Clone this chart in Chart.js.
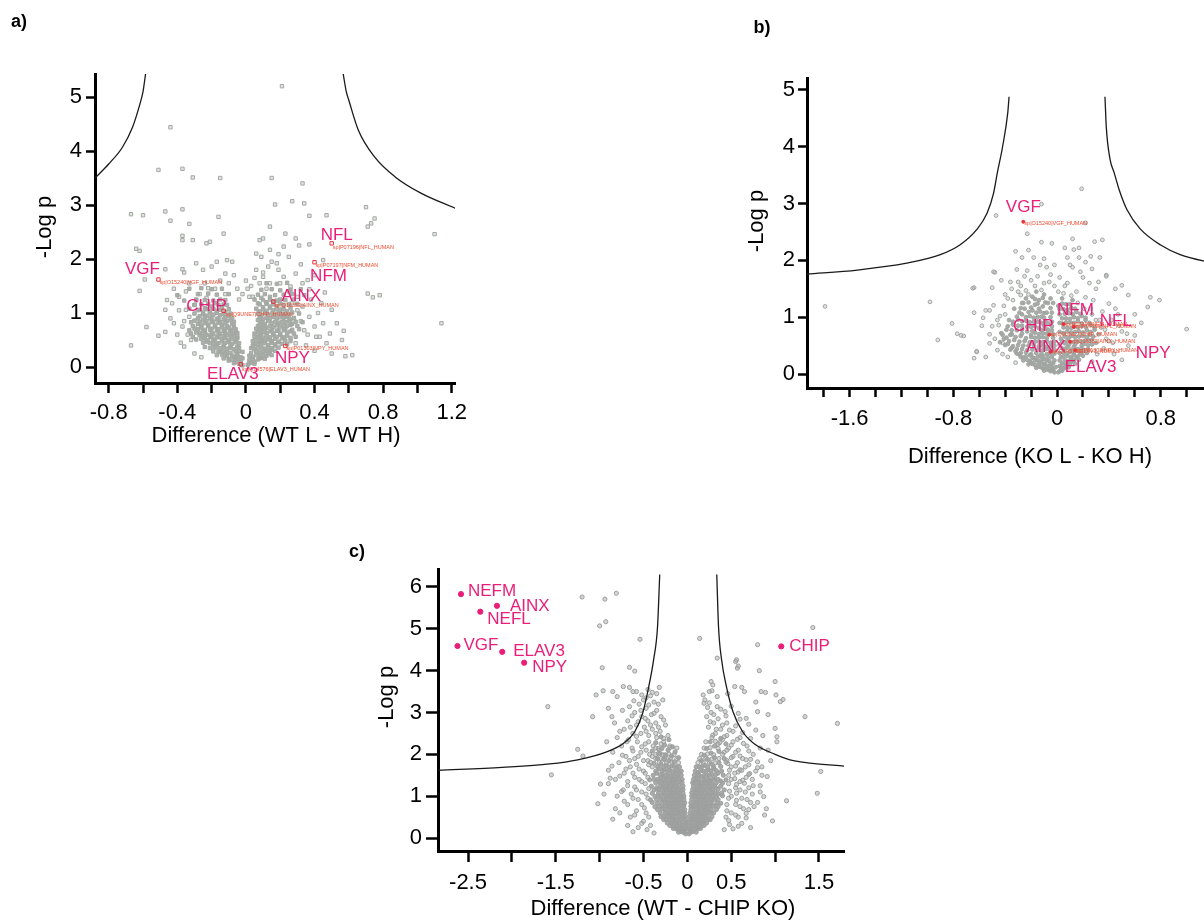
<!DOCTYPE html>
<html>
<head>
<meta charset="utf-8">
<script src="https://cdn.jsdelivr.net/npm/chart.js@4.4.1/dist/chart.umd.min.js"></script>
<style>
  html, body { margin: 0; padding: 0; background: #fff; overflow: hidden; width: 1204px; height: 924px; }
  canvas { position: absolute; }
  #ca { left: 0; top: 0; }
  #cb { left: 740px; top: 0; }
  #cc { left: 340px; top: 520px; }
</style>
</head>
<body>
<canvas id="ca" width="480" height="450"></canvas>
<canvas id="cb" width="540" height="470"></canvas>
<canvas id="cc" width="530" height="404"></canvas>
<script>
// Three volcano plots (a, b, c)

// ---------- panel a: WT L - WT H ----------
const xTicksA = ['-0.8', '-0.4', '0', '0.4', '0.8', '1.2'];
const yTicksA = ['0', '1', '2', '3', '4', '5'];
const genesA = ['NFL', 'NFM', 'VGF', 'CHIP', 'AINX', 'NPY', 'ELAV3'];
const accA = ['sp|P07196|NFL_HUMAN', 'sp|P07197|NFM_HUMAN', 'sp|O15240|VGF_HUMAN', 'sp|Q9UNE7|CHIP_HUMAN',
              'sp|Q16352|AINX_HUMAN', 'sp|P01303|NPY_HUMAN', 'sp|Q14576|ELAV3_HUMAN'];
const genesAx = [0.50, 0.40, -0.51, -0.13, 0.16, 0.23, -0.03];
const genesAy = [2.29, 1.94, 1.62, 1.04, 1.21, 0.39, 0.05];
const curveALeft = [[-0.88,3.50],[-0.80,3.76],[-0.72,4.07],[-0.66,4.45],[-0.62,4.85],[-0.60,5.10],[-0.585,5.43]];
const curveARight = [[0.567,5.43],[0.585,5.10],[0.60,4.94],[0.655,4.39],[0.75,3.89],[0.87,3.52],[1.02,3.22],[1.22,2.94]];
const scatterA = [[0.21,5.20],[-0.44,4.44],[-0.51,3.65],[-0.37,3.67],[-0.31,3.51],[-0.15,3.50],[0.15,3.50],[0.33,3.40],
  [0.17,3.01],[0.27,3.07],[0.34,3.03],[-0.67,2.83],[-0.60,2.81],[-0.47,2.88],[-0.37,2.92],[-0.44,2.71],[-0.33,2.65],
  [-0.16,2.78],[0.37,2.80],[0.47,2.81],[0.70,2.96],[0.75,2.75],[0.73,2.66],[0.71,2.60],[1.10,2.46],[-0.37,2.43],
  [-0.37,2.35],[-0.31,2.35],[-0.23,2.29],[-0.21,2.32],[-0.13,2.47],[-0.64,2.19],[-0.62,2.15],[-0.29,1.92],[-0.47,1.81],
  [-0.37,1.81],[-0.36,1.75],[-0.59,1.62],[-0.62,1.41],[-0.58,0.74],[-0.51,0.58],[-0.67,0.40],[-0.47,0.65],[0.71,1.36],
  [0.74,1.29],[0.78,1.33],[1.14,0.81],[0.62,0.22],[0.58,0.20],[0.56,0.50],[0.57,0.67],[0.53,0.81],[0.50,1.06],
  [0.44,1.18],[0.46,1.38],[0.37,1.44],[0.36,1.61],[0.29,1.73],[0.37,2.27],[0.31,2.25],[0.45,1.98],[0.25,2.04],
  [0.19,2.09],[0.14,2.17],[0.10,2.38],[0.08,2.35],[0.14,2.60],[0.09,2.04],[0.23,2.47],[0.29,2.38],[0.22,2.23],
  [-0.43,1.18],[-0.47,1.06],[-0.42,0.81],[-0.37,0.75],[-0.33,0.93],[-0.29,1.24],[-0.24,1.55],[-0.20,1.86],[-0.17,1.95],
  [-0.12,1.73],[-0.11,1.98],[-0.08,1.95],[-0.25,1.80],[-0.22,1.46],[-0.33,1.55],[-0.39,1.30],[-0.46,1.24],[-0.35,1.06],
  [-0.28,0.75],[-0.32,0.50],[-0.36,0.38],[-0.30,0.25],[-0.26,0.18],[0.06,1.80],[0.10,1.67],[0.14,1.55],[0.19,1.80],
  [0.22,1.67],[0.26,1.49],[0.30,1.30],[0.33,1.12],[0.37,0.93],[0.40,0.75],[0.43,0.56],[0.47,0.44],[0.50,0.25],
  [0.34,0.68],[0.29,0.44],[0.18,1.92],[0.13,1.86],[0.08,1.55],[0.04,1.30],[0.27,1.18],[0.23,0.93],[0.45,0.81],
  [0.49,0.62],[0.41,0.56],
  [-0.05,1.45],[0.00,1.60],[0.03,1.50],[-0.02,1.35],[0.10,1.75],[-0.15,1.60],[-0.35,1.40],[0.38,1.25],[0.33,1.55],
  [-0.44,0.90],[-0.40,0.60],[-0.38,0.45],[0.35,0.40],[0.40,0.30],[0.42,1.00],[0.06,2.10],[-0.07,1.70],[0.15,1.95],
  [-0.27,1.35],[-0.42,1.45],[0.32,1.90],[0.40,1.70],[-0.18,1.45],[-0.10,1.55],[0.05,1.65],[0.20,1.55],[0.25,1.40],
  [-0.30,1.15],[0.32,0.85],[0.36,0.60],[-0.34,0.60],[-0.36,0.85],[0.01,1.45],[-0.04,1.25],[0.02,1.30],[-0.23,1.28],
  [0.30,1.05],[-0.39,1.05],[0.12,1.45],[-0.12,1.35]];
const coreA = [[-0.02,0.03],[-0.04,0.06],[-0.06,0.09],[-0.03,0.11],[-0.08,0.13],[-0.05,0.15],[-0.10,0.12],
  [-0.03,0.18],[-0.07,0.19],[-0.11,0.20],[-0.14,0.23],[-0.05,0.24],[-0.09,0.26],[-0.13,0.29],[-0.04,0.30],[-0.16,0.28],
  [-0.07,0.33],[-0.11,0.34],[-0.15,0.35],[-0.19,0.37],[-0.05,0.38],[-0.09,0.40],[-0.13,0.41],[-0.17,0.43],[-0.21,0.44],
  [-0.06,0.46],[-0.10,0.47],[-0.14,0.48],[-0.19,0.49],[-0.23,0.47],[-0.05,0.53],[-0.08,0.52],[-0.12,0.54],[-0.16,0.55],
  [-0.20,0.56],[-0.24,0.54],[-0.07,0.59],[-0.11,0.60],[-0.15,0.61],[-0.19,0.62],[-0.23,0.60],[-0.27,0.59],[-0.06,0.65],
  [-0.09,0.66],[-0.13,0.67],[-0.17,0.68],[-0.21,0.69],[-0.25,0.66],[-0.29,0.64],[-0.07,0.72],[-0.10,0.73],[-0.14,0.74],
  [-0.18,0.75],[-0.22,0.76],[-0.26,0.73],[-0.30,0.71],[-0.08,0.80],[-0.12,0.81],[-0.16,0.82],[-0.20,0.83],[-0.24,0.81],
  [-0.28,0.80],[-0.09,0.87],[-0.13,0.88],[-0.17,0.89],[-0.21,0.90],[-0.25,0.87],[-0.30,0.86],[-0.10,0.95],[-0.15,0.96],
  [-0.19,0.97],[-0.23,0.95],[-0.27,0.94],[-0.12,1.02],[-0.17,1.04],[-0.21,1.03],[-0.25,1.01],[-0.14,1.10],[-0.20,1.12],
  [-0.24,1.09],[-0.18,1.18],[-0.11,1.15],[-0.28,1.05],
  [0.01,0.04],[0.03,0.08],[0.05,0.10],[0.02,0.13],[0.07,0.14],[0.09,0.17],[0.04,0.19],[0.06,0.22],[0.10,0.23],
  [0.13,0.25],[0.03,0.26],[0.08,0.28],[0.12,0.30],[0.15,0.32],[0.05,0.33],[0.09,0.36],[0.13,0.37],[0.17,0.39],
  [0.04,0.40],[0.07,0.42],[0.11,0.44],[0.15,0.45],[0.19,0.46],[0.06,0.49],[0.09,0.50],[0.13,0.51],[0.17,0.52],
  [0.21,0.53],[0.05,0.56],[0.08,0.57],[0.12,0.58],[0.16,0.59],[0.20,0.60],[0.24,0.58],[0.07,0.64],[0.10,0.65],
  [0.14,0.66],[0.18,0.67],[0.22,0.68],[0.26,0.66],[0.06,0.71],[0.09,0.72],[0.12,0.73],[0.16,0.74],[0.20,0.75],
  [0.24,0.76],[0.08,0.79],[0.11,0.80],[0.15,0.81],[0.19,0.82],[0.23,0.83],[0.27,0.80],[0.07,0.87],[0.10,0.88],
  [0.14,0.89],[0.18,0.90],[0.22,0.91],[0.26,0.88],[0.09,0.95],[0.13,0.96],[0.17,0.97],[0.21,0.98],[0.25,0.96],
  [0.08,1.03],[0.12,1.04],[0.16,1.05],[0.20,1.06],[0.24,1.03],[0.10,1.11],[0.14,1.12],[0.18,1.13],[0.22,1.15],
  [0.07,1.18],[0.12,1.20],[0.16,1.22],[0.20,1.25],[0.09,1.28],[0.14,1.30],[0.05,1.25],
  [-0.03,0.08],[-0.07,0.07],[-0.02,0.16],[-0.06,0.17],[-0.10,0.15],[-0.13,0.16],[-0.05,0.22],[-0.08,0.21],[-0.12,0.23],
  [-0.17,0.22],[-0.02,0.28],[-0.06,0.29],[-0.11,0.27],[-0.15,0.28],[-0.19,0.29],[-0.04,0.36],[-0.09,0.35],[-0.13,0.37],
  [-0.17,0.36],[-0.21,0.35],[-0.24,0.37],[-0.04,0.44],[-0.08,0.43],[-0.12,0.45],[-0.16,0.44],[-0.19,0.43],[-0.25,0.45],
  [-0.06,0.51],[-0.10,0.50],[-0.14,0.52],[-0.18,0.51],[-0.22,0.50],[-0.26,0.52],[-0.29,0.51],[-0.05,0.57],[-0.09,0.58],
  [-0.13,0.57],[-0.17,0.56],[-0.21,0.58],[-0.25,0.57],[-0.31,0.56],[-0.05,0.63],[-0.08,0.62],[-0.12,0.64],[-0.16,0.63],
  [-0.20,0.62],[-0.24,0.64],[-0.27,0.63],[-0.32,0.62],[-0.06,0.70],[-0.09,0.69],[-0.12,0.71],[-0.16,0.70],[-0.20,0.71],
  [-0.24,0.69],[-0.28,0.70],[-0.33,0.68],[-0.07,0.77],[-0.11,0.76],[-0.14,0.78],[-0.18,0.77],[-0.22,0.78],[-0.26,0.77],
  [-0.31,0.76],[-0.07,0.84],[-0.11,0.85],[-0.15,0.83],[-0.19,0.84],[-0.23,0.85],[-0.27,0.84],[-0.32,0.83],[-0.08,0.91],
  [-0.12,0.92],[-0.16,0.90],[-0.20,0.91],[-0.24,0.92],[-0.28,0.90],[-0.09,0.99],[-0.13,0.98],[-0.17,1.00],[-0.21,0.99],
  [-0.25,0.98],[-0.30,0.99],[-0.10,1.07],[-0.15,1.06],[-0.19,1.08],[-0.23,1.07],[-0.27,1.06],[-0.33,1.08],[-0.13,1.16],
  [-0.16,1.15],[-0.22,1.17],[-0.26,1.16],[-0.30,1.15],[-0.12,1.24],[-0.15,1.25],[-0.19,1.23],[-0.24,1.24],[-0.29,1.25],
  [-0.36,1.23],[-0.10,1.35],[-0.17,1.34],[-0.22,1.36],[-0.28,1.35],[-0.40,1.33],[-0.14,1.45],[-0.20,1.44],[-0.26,1.46],
  [-0.33,1.45],
  [0.02,0.07],[0.05,0.06],[0.04,0.15],[0.08,0.16],[0.11,0.15],[0.02,0.21],[0.08,0.20],[0.12,0.21],[0.15,0.22],
  [0.06,0.29],[0.10,0.28],[0.14,0.29],[0.17,0.30],[0.03,0.35],[0.07,0.36],[0.11,0.34],[0.15,0.35],[0.19,0.36],
  [0.05,0.42],[0.09,0.43],[0.13,0.41],[0.17,0.42],[0.21,0.43],[0.24,0.42],[0.04,0.48],[0.08,0.47],[0.11,0.49],
  [0.15,0.48],[0.19,0.47],[0.23,0.49],[0.26,0.48],[0.07,0.55],[0.10,0.54],[0.14,0.55],[0.18,0.56],[0.22,0.55],
  [0.26,0.54],[0.29,0.56],[0.05,0.62],[0.09,0.61],[0.12,0.63],[0.16,0.62],[0.20,0.61],[0.24,0.63],[0.28,0.62],
  [0.08,0.69],[0.11,0.70],[0.15,0.69],[0.19,0.68],[0.23,0.70],[0.27,0.69],[0.31,0.70],[0.07,0.76],[0.10,0.77],
  [0.14,0.76],[0.18,0.77],[0.22,0.76],[0.26,0.78],[0.30,0.76],[0.09,0.84],[0.13,0.85],[0.17,0.84],[0.21,0.83],
  [0.25,0.85],[0.29,0.84],[0.33,0.83],[0.08,0.92],[0.12,0.91],[0.16,0.93],[0.20,0.92],[0.24,0.93],[0.28,0.91],
  [0.07,0.99],[0.11,1.00],[0.15,0.99],[0.19,1.00],[0.23,0.99],[0.27,1.01],[0.31,0.99],[0.06,1.08],[0.10,1.07],
  [0.14,1.09],[0.18,1.08],[0.22,1.07],[0.26,1.09],[0.08,1.16],[0.12,1.17],[0.16,1.16],[0.20,1.18],[0.25,1.16],
  [0.30,1.17],[0.10,1.24],[0.14,1.25],[0.18,1.23],[0.23,1.24],[0.28,1.25],[0.07,1.34],[0.11,1.35],[0.17,1.33],
  [0.22,1.34],[0.27,1.35],[0.34,1.33],[0.09,1.43],[0.15,1.44],[0.20,1.42],[0.26,1.43],[0.32,1.44],[0.12,1.55],
  [0.18,1.54],[0.24,1.56]];

// ---------- panel b: KO L - KO H ----------
const xTicksB = ['-1.6', '-0.8', '0', '0.8'];
const yTicksB = ['0', '1', '2', '3', '4', '5'];
const genesB = ['VGF', 'NFM', 'NFL', 'CHIP', 'AINX', 'NPY', 'ELAV3'];
const accB = ['sp|O15240|VGF_HUMAN', 'sp|P07197|NFM_HUMAN', 'sp|P07196|NFL_HUMAN', 'sp|Q9UNE7|CHIP_HUMAN',
              'sp|Q16352|AINX_HUMAN', 'sp|P01303|NPY_HUMAN', 'sp|Q14576|ELAV3_HUMAN'];
const genesBx = [-0.26, 0.05, 0.13, -0.06, 0.10, 0.14, -0.05];
const genesBy = [2.68, 0.88, 0.83, 0.69, 0.57, 0.42, 0.39];
const curveBLeft = [[-1.93,1.76],[-1.54,1.83],[-1.16,1.95],[-0.90,2.10],[-0.75,2.27],[-0.62,2.54],[-0.54,2.83],
  [-0.49,3.18],[-0.46,3.55],[-0.42,4.00],[-0.38,4.60],[-0.37,4.88]];
const curveBRight = [[0.37,4.88],[0.38,4.35],[0.41,3.77],[0.44,3.55],[0.48,3.24],[0.54,2.89],[0.64,2.56],
  [0.80,2.27],[0.95,2.10],[1.13,1.99],[1.30,1.93],[1.51,1.88]];
const scatterB = [[0.19,3.26],[-0.47,2.79],[-0.12,2.99],[0.22,2.66],[-0.23,2.47],[0.12,2.38],[0.29,2.33],[0.35,2.36],
  [-0.12,2.32],[-0.04,2.30],[-0.32,2.16],[-0.22,2.18],[0.06,2.22],[0.13,2.19],[0.17,2.22],[-0.27,2.05],[-0.18,2.05],
  [-0.10,2.03],[0.08,2.05],[0.17,2.05],[0.26,2.07],[0.33,2.05],[0.22,1.97],[-0.49,1.80],[-0.31,1.84],[-0.23,1.82],
  [-0.08,1.88],[0.12,1.88],[0.38,1.74],[0.50,1.56],[0.72,1.35],[0.70,1.18],[0.79,1.30],[0.55,1.39],[0.40,1.24],
  [1.00,0.79],[0.60,0.68],[0.54,0.71],[-1.79,1.19],[-0.98,1.27],[-0.64,1.52],[-0.50,1.52],[-0.81,0.89],[-0.92,0.60],
  [-0.77,0.71],[-0.74,0.68],[-0.72,0.67],[-0.62,0.39],[-0.64,0.28],[-0.57,0.99],[-0.52,1.12],[-0.49,1.21],[-0.40,1.05],
  [-0.50,0.84],[-0.45,0.86],[-0.52,0.54],[-0.46,0.42],[-0.38,1.33],[-0.35,1.50],[-0.28,1.39],[-0.24,1.47],[-0.64,1.08],
  [-0.62,0.40],[-0.65,1.51],[-0.48,1.79],[-0.55,1.12],[-0.52,0.70],[0.38,1.72],[0.30,1.50],[0.25,1.60],[0.20,1.70],
  [0.28,1.30],[0.35,1.10],[0.42,0.95],[0.48,0.85],[0.30,0.95],[0.45,1.15],[0.60,1.05],[0.65,0.90],[0.38,0.62],
  [0.55,0.50],[0.44,0.35],[-0.30,1.62],[-0.20,1.65],[-0.15,1.72],[-0.10,1.60],[-0.05,1.75],[0.02,1.70],[0.08,1.60],
  [-0.40,1.40],[-0.35,0.70],[-0.42,0.55],[-0.38,0.30],[0.15,1.45],[0.22,1.35],[-0.02,1.55],[0.05,1.42],[-0.27,1.25],
  [-0.44,1.02],[0.34,0.82],[0.26,1.15],
  [-0.34,1.30],[-0.28,1.55],[-0.22,1.40],[-0.17,1.55],[-0.12,1.48],[-0.06,1.62],[0.01,1.45],[0.06,1.55],[0.11,1.38],
  [0.16,1.25],[0.21,1.15],[0.27,1.05],[0.33,0.95],[0.37,0.78],[0.40,0.58],[0.36,0.45],[0.31,0.35],[0.27,0.22],
  [-0.32,0.20],[-0.42,0.35],[-0.48,0.62],[-0.46,0.95],[-0.41,1.20],[-0.30,1.45],[-0.25,1.72],[-0.36,1.62],[-0.43,1.65],
  [0.18,1.80],[0.27,1.85],[0.10,1.92],[-0.02,1.92],[-0.13,1.92],[0.32,1.62],[0.45,1.50],[0.47,1.05],[0.50,0.75],
  [0.43,0.55],[0.50,0.25],[-0.55,0.30],[-0.58,0.85]];
const coreB = [[-0.02,0.03],[-0.05,0.05],[-0.08,0.08],[-0.03,0.10],[-0.11,0.10],[-0.06,0.14],[-0.14,0.13],[-0.09,0.17],
  [-0.17,0.16],[-0.03,0.19],[-0.12,0.20],[-0.20,0.20],[-0.06,0.23],[-0.15,0.24],[-0.23,0.25],[-0.10,0.27],[-0.18,0.28],
  [-0.26,0.29],[-0.04,0.30],[-0.13,0.32],[-0.21,0.33],[-0.29,0.34],[-0.08,0.35],[-0.16,0.37],[-0.24,0.38],[-0.32,0.40],
  [-0.05,0.41],[-0.11,0.42],[-0.19,0.43],[-0.27,0.44],[-0.35,0.46],[-0.08,0.48],[-0.14,0.49],[-0.22,0.50],[-0.30,0.51],
  [-0.38,0.53],[-0.05,0.55],[-0.11,0.56],[-0.17,0.57],[-0.25,0.58],[-0.33,0.60],[-0.41,0.62],[-0.08,0.63],[-0.14,0.64],
  [-0.20,0.65],[-0.28,0.67],[-0.36,0.69],[-0.06,0.71],[-0.11,0.72],[-0.17,0.73],[-0.23,0.75],[-0.31,0.77],[-0.39,0.78],
  [-0.09,0.80],[-0.14,0.81],[-0.20,0.83],[-0.27,0.85],[-0.34,0.87],[-0.07,0.89],[-0.12,0.90],[-0.18,0.92],[-0.24,0.94],
  [-0.30,0.96],[-0.10,0.99],[-0.15,1.00],[-0.21,1.02],[-0.27,1.05],[-0.08,1.08],[-0.13,1.10],[-0.19,1.12],[-0.25,1.15],
  [-0.11,1.19],[-0.17,1.22],[-0.22,1.26],[-0.14,1.30],[-0.07,1.25],[-0.19,1.36],[-0.10,1.40],[-0.16,1.45],[-0.43,0.72],
  [-0.37,0.95],[-0.33,1.15],
  [0.01,0.03],[0.03,0.07],[0.05,0.10],[0.02,0.14],[0.07,0.15],[0.04,0.19],[0.09,0.20],[0.12,0.22],[0.06,0.25],
  [0.11,0.27],[0.15,0.28],[0.03,0.30],[0.08,0.32],[0.13,0.34],[0.18,0.35],[0.05,0.38],[0.10,0.39],[0.16,0.41],
  [0.21,0.42],[0.04,0.45],[0.08,0.47],[0.13,0.48],[0.19,0.50],[0.24,0.51],[0.06,0.54],[0.11,0.56],[0.16,0.57],
  [0.22,0.59],[0.27,0.60],[0.03,0.62],[0.09,0.64],[0.14,0.65],[0.20,0.67],[0.25,0.69],[0.05,0.72],[0.11,0.73],
  [0.17,0.75],[0.23,0.77],[0.29,0.78],[0.08,0.81],[0.13,0.83],[0.19,0.84],[0.26,0.86],[0.04,0.89],[0.10,0.91],
  [0.16,0.93],[0.22,0.95],[0.07,0.98],[0.13,1.00],[0.19,1.02],[0.02,1.05],[0.09,1.07],[0.15,1.09],[0.05,1.14],
  [0.11,1.16],[0.01,1.20],[0.07,1.23],[0.12,1.30],[0.04,1.33],[0.30,0.55],[0.32,0.70],
  [-0.03,0.06],[-0.06,0.07],[-0.10,0.06],[-0.01,0.12],[-0.04,0.12],[-0.08,0.13],[-0.12,0.12],[-0.16,0.11],[-0.05,0.18],
  [-0.10,0.18],[-0.14,0.19],[-0.19,0.18],[-0.22,0.17],[-0.02,0.24],[-0.08,0.24],[-0.12,0.25],[-0.17,0.24],[-0.21,0.23],
  [-0.26,0.24],[-0.07,0.30],[-0.11,0.31],[-0.15,0.30],[-0.19,0.29],[-0.24,0.31],[-0.28,0.30],[-0.02,0.36],[-0.05,0.37],
  [-0.12,0.36],[-0.20,0.35],[-0.28,0.37],[-0.31,0.36],[-0.02,0.43],[-0.08,0.44],[-0.15,0.43],[-0.23,0.42],[-0.31,0.44],
  [-0.36,0.43],[-0.02,0.50],[-0.05,0.49],[-0.11,0.50],[-0.18,0.51],[-0.26,0.50],[-0.34,0.49],[-0.40,0.51],[-0.02,0.57],
  [-0.08,0.58],[-0.14,0.57],[-0.21,0.56],[-0.29,0.57],[-0.37,0.58],[-0.44,0.56],[-0.03,0.64],[-0.11,0.65],[-0.17,0.64],
  [-0.24,0.63],[-0.32,0.65],[-0.39,0.64],[-0.03,0.70],[-0.08,0.71],[-0.14,0.70],[-0.20,0.69],[-0.27,0.71],[-0.35,0.70],
  [-0.42,0.69],[-0.04,0.77],[-0.07,0.78],[-0.12,0.77],[-0.19,0.76],[-0.27,0.78],[-0.35,0.77],[-0.04,0.84],[-0.10,0.85],
  [-0.17,0.84],[-0.23,0.83],[-0.30,0.85],[-0.38,0.84],[-0.04,0.92],[-0.09,0.93],[-0.15,0.92],[-0.21,0.91],[-0.27,0.93],
  [-0.34,0.92],[-0.05,1.00],[-0.12,1.01],[-0.18,0.99],[-0.24,1.00],[-0.31,1.01],[-0.04,1.08],[-0.10,1.07],[-0.16,1.08],
  [-0.22,1.09],[-0.29,1.08],[-0.05,1.16],[-0.14,1.15],[-0.20,1.17],[-0.28,1.16],[-0.03,1.25],[-0.09,1.26],[-0.15,1.24],
  [-0.26,1.25],[-0.05,1.33],[-0.11,1.34],[-0.17,1.32],[-0.24,1.33],
  [0.02,0.05],[0.04,0.06],[0.03,0.12],[0.06,0.11],[0.09,0.12],[0.06,0.18],[0.10,0.17],[0.14,0.18],[0.02,0.24],
  [0.09,0.23],[0.13,0.24],[0.17,0.25],[0.05,0.31],[0.11,0.30],[0.16,0.31],[0.20,0.32],[0.02,0.37],[0.08,0.36],
  [0.13,0.37],[0.19,0.38],[0.23,0.37],[0.06,0.44],[0.11,0.43],[0.16,0.44],[0.19,0.45],[0.24,0.44],[0.02,0.52],
  [0.09,0.51],[0.14,0.52],[0.21,0.53],[0.27,0.52],[0.04,0.58],[0.08,0.59],[0.14,0.58],[0.19,0.57],[0.25,0.59],
  [0.06,0.66],[0.11,0.67],[0.17,0.66],[0.23,0.65],[0.28,0.66],[0.02,0.74],[0.08,0.75],[0.14,0.74],[0.20,0.73],
  [0.26,0.74],[0.05,0.82],[0.11,0.81],[0.16,0.82],[0.22,0.83],[0.29,0.82],[0.02,0.90],[0.07,0.91],[0.13,0.90],
  [0.19,0.89],[0.25,0.90],[0.04,0.98],[0.10,0.97],[0.16,0.98],[0.22,0.99],[0.06,1.06],[0.12,1.05],[0.18,1.06],
  [0.02,1.14],[0.08,1.13],[0.14,1.15],[0.04,1.24],[0.10,1.23]];

// ---------- panel c: WT - CHIP KO ----------
const xTicksC = ['-2.5', '-1.5', '-0.5', '0', '0.5', '1.5'];
const yTicksC = ['0', '1', '2', '3', '4', '5', '6'];
const genesC = ['NEFM', 'AINX', 'NEFL', 'VGF', 'ELAV3', 'NPY', 'CHIP'];
const genesCx = [-2.58, -2.17, -2.36, -2.62, -2.11, -1.86, 1.07];
const genesCy = [5.83, 5.55, 5.41, 4.59, 4.45, 4.19, 4.58];
const curveCLeft = [[-2.84,1.62],[-2.11,1.69],[-1.57,1.77],[-1.25,1.87],[-0.92,2.06],[-0.73,2.26],[-0.60,2.54],
  [-0.51,2.98],[-0.44,3.62],[-0.385,4.26],[-0.34,5.05],[-0.315,6.30]];
const curveCRight = [[0.335,6.30],[0.355,5.05],[0.39,4.26],[0.445,3.62],[0.52,3.02],[0.63,2.54],[0.77,2.24],
  [1.00,2.00],[1.17,1.87],[1.40,1.79],[1.785,1.72]];
const scatterC = [[-1.20,5.76],[-0.94,5.71],[-0.81,5.85],[-0.93,5.17],[-1.00,5.07],[-0.54,4.75],[0.14,4.77],[1.43,5.03],
  [0.80,4.62],[0.82,4.00],[0.56,4.26],[0.58,4.11],[0.34,4.30],[-0.66,4.08],[-0.97,4.07],[-0.60,3.99],[1.00,3.74],
  [1.01,3.42],[1.06,3.26],[1.09,3.31],[1.34,2.90],[1.00,2.62],[1.02,2.42],[1.52,1.59],[1.48,1.07],[1.13,0.89],
  [0.97,0.41],[0.87,0.99],[0.91,1.47],[1.71,2.74],[-1.59,3.14],[-1.08,2.90],[-1.25,2.12],[-1.19,1.96],[-1.55,1.51],
  [-0.99,1.29],[-0.88,1.43],[-0.75,1.11],[-1.04,3.42],[-0.96,3.52],[-0.85,3.50],[-0.73,3.62],[-0.66,3.60],[-0.58,3.50],
  [-0.80,3.38],[-0.66,3.14],[-0.86,2.90],[0.54,3.62],[0.65,3.50],[0.84,3.50],[0.89,3.48],[0.80,3.02],[0.67,2.86],
  [0.60,2.84],[0.78,2.58],[1.02,2.30],[0.67,1.87],[0.80,1.82],[0.71,1.54],[0.60,1.63],[0.65,1.31],[0.56,1.07],
  [0.76,0.75],[0.67,0.59],[0.27,3.74],[0.29,3.66],[0.25,3.50],[0.18,3.42],[0.19,3.22],[0.25,3.23],[0.34,3.14],
  [0.43,3.02],[0.55,4.22],[0.57,4.06],
  [-0.45,3.55],[-0.42,3.40],[-0.50,3.30],[-0.38,3.25],[-0.55,3.20],[-0.47,3.10],[-0.35,3.05],[-0.60,3.00],[-0.41,2.95],
  [-0.52,2.90],[-0.30,2.90],[-0.68,2.80],[-0.45,2.80],[-0.36,2.75],[-0.58,2.70],[-0.25,2.70],[-0.49,2.65],[-0.72,2.60],
  [-0.40,2.60],[-0.31,2.55],[-0.62,2.50],[-0.53,2.50],[-0.44,2.45],[-0.22,2.45],[-0.80,2.40],[-0.35,2.40],[-0.67,2.35],
  [-0.57,2.30],[-0.27,2.30],[-0.48,2.25],[-0.39,2.20],[-0.75,2.20],[-0.20,2.20],[-0.63,2.15],[-0.32,2.10],[-0.53,2.05],
  [-0.85,2.05],[-0.43,2.00],[-0.70,1.95],[-0.25,1.95],[-0.60,1.90],[-0.36,1.90],[-0.50,1.85],[-0.78,1.80],[-0.44,1.75],
  [-0.65,1.70],[-0.55,1.65],[-0.90,1.62],[-0.72,1.55],[-0.48,1.55],[-0.60,1.45],[-0.82,1.40],[-0.52,1.35],[-0.68,1.25],
  [-0.58,1.15],[-0.47,1.05],[-0.62,0.95],[-0.72,0.88],[-0.52,0.80],[-0.58,0.65],[-0.47,0.60],[-0.65,0.50],[-0.50,0.40],
  [-0.42,0.30],[-0.56,0.25],[-0.82,0.70],[-0.95,1.05],[-0.35,3.45],[-0.28,3.30],[-0.33,2.02],
  [0.20,3.30],[0.27,3.00],[0.22,2.90],[0.35,2.85],[0.30,2.75],[0.45,2.75],[0.24,2.65],[0.38,2.60],[0.52,2.55],
  [0.32,2.50],[0.45,2.45],[0.28,2.40],[0.60,2.40],[0.40,2.35],[0.52,2.30],[0.35,2.25],[0.68,2.20],[0.47,2.15],
  [0.58,2.10],[0.42,2.05],[0.75,2.00],[0.52,1.95],[0.63,1.90],[0.45,1.85],[0.57,1.80],[0.70,1.75],[0.50,1.70],
  [0.62,1.62],[0.78,1.60],[0.54,1.55],[0.67,1.45],[0.50,1.40],[0.60,1.35],[0.75,1.25],[0.55,1.20],[0.66,1.10],
  [0.50,1.00],[0.62,0.95],[0.72,0.85],[0.55,0.80],[0.64,0.70],[0.50,0.60],[0.58,0.50],[0.47,0.42],[0.62,0.35],
  [0.52,0.22],[0.83,1.10],[0.88,0.55],[0.85,1.70],[0.92,2.10],
  [-0.32,3.60],[-0.40,3.48],[-0.52,3.42],[-0.47,3.35],[-0.33,3.20],[-0.61,3.28],[-0.44,3.18],[-0.53,3.05],[-0.38,2.98],
  [-0.63,2.92],[-0.48,2.86],[-0.27,2.82],[-0.56,2.78],[-0.42,2.70],[-0.33,2.65],[-0.65,2.65],[-0.77,2.55],[-0.47,2.55],
  [-0.36,2.50],[-0.58,2.43],[-0.27,2.38],[-0.69,2.30],[-0.44,2.30],[-0.52,2.18],[-0.36,2.15],[-0.62,2.08],[-0.47,2.10],
  [-0.74,1.98],[-0.40,1.95],[-0.56,1.95],[-0.30,2.25],[-0.66,1.85],[-0.45,1.85],[-0.86,1.72],[-0.58,1.76],[-0.40,1.70],
  [-0.70,1.65],[-0.50,1.60],[-0.62,1.55],[-0.45,1.45],[-0.77,1.48],[-0.55,1.40],[-0.68,1.35],[-0.48,1.30],[-0.90,1.30],
  [-0.60,1.22],[-0.44,1.18],[-0.73,1.15],[-0.52,1.10],[-0.64,1.05],[-0.80,1.00],[-0.45,0.95],[-0.56,0.92],[-0.68,0.80],
  [-0.49,0.72],[-0.77,0.60],[-0.60,0.55],[-0.44,0.50],[-0.52,0.35],[-0.68,0.30],[-0.46,0.20],[-0.62,0.15],[-0.38,0.12],
  [-0.85,0.45],[-1.02,0.82],[-0.92,2.30],[-0.83,2.75],[-0.74,3.05],[-0.90,3.10],[-0.62,3.50],
  [0.28,3.52],[0.34,3.38],[0.46,3.45],[0.23,3.12],[0.38,3.08],[0.50,3.15],[0.30,2.95],[0.44,2.92],[0.58,2.98],
  [0.26,2.78],[0.40,2.70],[0.55,2.68],[0.70,2.72],[0.33,2.60],[0.48,2.58],[0.63,2.52],[0.29,2.46],[0.42,2.42],
  [0.57,2.36],[0.72,2.38],[0.37,2.28],[0.50,2.22],[0.64,2.26],[0.45,2.10],[0.55,2.05],[0.70,2.08],[0.83,2.15],
  [0.50,1.92],[0.60,1.96],[0.72,1.88],[0.46,1.78],[0.55,1.72],[0.66,1.70],[0.80,1.68],[0.48,1.62],[0.58,1.58],
  [0.70,1.52],[0.85,1.50],[0.47,1.50],[0.54,1.42],[0.63,1.38],[0.74,1.40],[0.47,1.30],[0.56,1.28],[0.70,1.20],
  [0.83,1.25],[0.48,1.12],[0.60,1.15],[0.74,1.05],[0.47,0.95],[0.56,0.90],[0.68,0.92],[0.80,0.85],[0.45,0.80],
  [0.60,0.75],[0.70,0.68],[0.45,0.65],[0.55,0.55],[0.67,0.48],[0.44,0.50],[0.48,0.32],[0.58,0.28],[0.42,0.20],
  [0.72,0.25],[0.90,0.70],[0.95,1.85],[0.86,2.45],[0.78,3.25],[0.92,2.95],[0.62,3.60],
  [-0.10,1.80],[-0.18,1.81],[-0.24,1.79],[-0.32,1.80],[-0.42,1.81],[-0.12,1.90],[-0.19,1.91],[-0.26,1.89],[-0.30,1.90],
  [-0.15,2.00],[-0.21,2.01],[-0.28,1.99],[-0.36,2.00],[-0.12,2.15],[-0.20,2.16],[-0.33,2.14],
  [0.12,1.80],[0.18,1.81],[0.25,1.79],[0.32,1.80],[0.44,1.81],[0.14,1.90],[0.21,1.91],[0.28,1.89],[0.36,1.90],
  [0.16,2.00],[0.23,2.01],[0.30,1.99],[0.40,2.00],[0.19,2.15],[0.26,2.16],[0.35,2.14],[0.21,2.30],[0.32,2.31]];
const coreC = [[-0.02,0.10],[-0.05,0.14],[-0.08,0.18],[-0.03,0.20],[-0.11,0.22],[-0.06,0.25],[-0.14,0.27],[-0.09,0.30],
  [-0.03,0.33],[-0.12,0.34],[-0.17,0.36],[-0.06,0.39],[-0.15,0.42],[-0.20,0.43],[-0.09,0.45],[-0.04,0.48],[-0.13,0.50],
  [-0.18,0.52],[-0.23,0.53],[-0.07,0.55],[-0.11,0.58],[-0.16,0.60],[-0.21,0.58],[-0.05,0.63],[-0.09,0.65],[-0.14,0.67],
  [-0.19,0.69],[-0.25,0.66],[-0.07,0.72],[-0.12,0.74],[-0.17,0.76],[-0.22,0.77],[-0.28,0.74],[-0.05,0.80],[-0.10,0.82],
  [-0.15,0.84],[-0.20,0.85],[-0.26,0.86],[-0.08,0.90],[-0.13,0.92],[-0.18,0.93],[-0.24,0.95],[-0.30,0.92],[-0.06,0.98],
  [-0.11,1.00],[-0.16,1.02],[-0.21,1.03],[-0.27,1.05],[-0.33,1.01],[-0.09,1.08],[-0.14,1.10],[-0.19,1.12],[-0.24,1.13],
  [-0.30,1.15],[-0.07,1.17],[-0.12,1.19],[-0.17,1.21],[-0.22,1.22],[-0.28,1.24],[-0.35,1.20],[-0.10,1.27],[-0.15,1.29],
  [-0.20,1.31],[-0.26,1.33],[-0.32,1.35],[-0.08,1.36],[-0.13,1.39],[-0.18,1.41],[-0.24,1.42],[-0.30,1.44],[-0.38,1.40],
  [-0.11,1.47],[-0.16,1.49],[-0.22,1.50],[-0.28,1.52],[-0.35,1.55],[-0.09,1.56],[-0.14,1.59],[-0.20,1.61],[-0.26,1.63],
  [-0.32,1.66],[-0.12,1.70],[-0.18,1.72],[-0.24,1.74],[-0.30,1.77],[-0.38,1.79],[-0.15,1.82],[-0.21,1.85],[-0.27,1.88],
  [-0.34,1.90],[-0.10,1.92],[-0.18,1.96],[-0.25,1.99],[-0.31,2.02],[-0.14,2.06],[-0.22,2.10],[-0.29,2.14],[-0.40,2.08],
  [-0.17,2.18],[-0.26,2.22],[-0.36,2.28],[-0.21,2.35],[-0.30,2.42],
  [0.02,0.10],[0.04,0.14],[0.07,0.17],[0.03,0.21],[0.10,0.21],[0.06,0.25],[0.13,0.26],[0.09,0.30],[0.04,0.32],
  [0.16,0.32],[0.12,0.36],[0.07,0.38],[0.19,0.39],[0.15,0.42],[0.05,0.44],[0.10,0.46],[0.21,0.46],[0.17,0.50],
  [0.08,0.52],[0.13,0.54],[0.24,0.53],[0.06,0.58],[0.19,0.58],[0.11,0.61],[0.16,0.63],[0.22,0.64],[0.27,0.62],
  [0.08,0.67],[0.13,0.70],[0.19,0.71],[0.24,0.72],[0.06,0.76],[0.11,0.78],[0.16,0.79],[0.21,0.80],[0.27,0.81],
  [0.32,0.78],[0.08,0.86],[0.13,0.87],[0.18,0.89],[0.24,0.90],[0.30,0.91],[0.10,0.95],[0.15,0.97],[0.20,0.98],
  [0.26,1.00],[0.07,1.03],[0.12,1.05],[0.17,1.07],[0.23,1.08],[0.29,1.10],[0.35,1.05],[0.09,1.13],[0.14,1.15],
  [0.20,1.17],[0.26,1.19],[0.32,1.21],[0.11,1.23],[0.16,1.26],[0.22,1.28],[0.28,1.30],[0.08,1.32],[0.13,1.35],
  [0.19,1.37],[0.25,1.39],[0.31,1.41],[0.38,1.36],[0.10,1.44],[0.16,1.47],[0.22,1.49],[0.28,1.52],[0.35,1.55],
  [0.12,1.56],[0.18,1.60],[0.24,1.63],[0.30,1.66],[0.14,1.70],[0.20,1.74],[0.27,1.77],[0.36,1.80],[0.16,1.85],
  [0.23,1.88],[0.31,1.92],[0.42,1.90],[0.19,1.98],[0.27,2.03],[0.36,2.07],[0.22,2.14],[0.31,2.20],[0.44,2.25],
  [0.26,2.30],[0.38,2.38],
  [-0.03,0.15],[-0.07,0.16],[-0.10,0.14],[-0.01,0.22],[-0.06,0.23],[-0.09,0.21],[-0.13,0.22],[-0.16,0.23],[-0.02,0.29],
  [-0.05,0.30],[-0.12,0.29],[-0.16,0.28],[-0.20,0.30],[-0.01,0.37],[-0.09,0.36],[-0.14,0.38],[-0.19,0.37],[-0.23,0.36],
  [-0.02,0.44],[-0.07,0.45],[-0.12,0.44],[-0.17,0.43],[-0.24,0.45],[-0.27,0.44],[-0.02,0.52],[-0.09,0.53],[-0.16,0.51],
  [-0.21,0.52],[-0.27,0.53],[-0.30,0.51],[-0.03,0.60],[-0.08,0.61],[-0.13,0.60],[-0.19,0.59],[-0.25,0.61],[-0.31,0.60],
  [-0.03,0.68],[-0.11,0.69],[-0.16,0.68],[-0.22,0.67],[-0.29,0.69],[-0.34,0.68],[-0.04,0.76],[-0.09,0.77],[-0.14,0.76],
  [-0.20,0.75],[-0.25,0.77],[-0.32,0.76],[-0.37,0.75],[-0.03,0.84],[-0.07,0.85],[-0.12,0.84],[-0.17,0.83],[-0.23,0.85],
  [-0.29,0.84],[-0.34,0.83],[-0.40,0.85],[-0.04,0.92],[-0.10,0.93],[-0.15,0.92],[-0.21,0.91],[-0.27,0.93],[-0.35,0.92],
  [-0.42,0.91],[-0.04,1.00],[-0.08,1.01],[-0.13,1.00],[-0.19,0.99],[-0.24,1.01],[-0.30,1.00],[-0.37,0.99],[-0.05,1.08],
  [-0.11,1.09],[-0.16,1.08],[-0.21,1.07],[-0.27,1.09],[-0.33,1.08],[-0.40,1.07],[-0.05,1.16],[-0.10,1.17],[-0.15,1.16],
  [-0.20,1.15],[-0.25,1.17],[-0.33,1.16],[-0.38,1.15],[-0.05,1.24],[-0.13,1.25],[-0.19,1.24],[-0.25,1.23],[-0.31,1.25],
  [-0.41,1.24],[-0.06,1.32],[-0.12,1.33],[-0.17,1.32],[-0.23,1.31],[-0.29,1.33],[-0.36,1.32],[-0.06,1.40],[-0.10,1.41],
  [-0.16,1.40],[-0.21,1.39],[-0.27,1.41],[-0.34,1.40],[-0.43,1.39],[-0.07,1.50],[-0.13,1.51],[-0.19,1.49],[-0.25,1.50],
  [-0.31,1.51],[-0.39,1.50],[-0.07,1.60],[-0.11,1.61],[-0.17,1.59],[-0.23,1.60],[-0.29,1.61],[-0.36,1.60],[-0.09,1.70],
  [-0.15,1.71],[-0.21,1.69],[-0.27,1.70],[-0.34,1.71],
  [0.03,0.15],[0.06,0.16],[0.10,0.14],[0.01,0.22],[0.05,0.23],[0.08,0.21],[0.12,0.22],[0.15,0.23],[0.02,0.29],
  [0.06,0.30],[0.11,0.29],[0.14,0.28],[0.19,0.30],[0.02,0.37],[0.10,0.36],[0.14,0.38],[0.18,0.37],[0.22,0.36],
  [0.03,0.44],[0.08,0.45],[0.13,0.44],[0.18,0.43],[0.24,0.45],[0.26,0.44],[0.03,0.52],[0.06,0.53],[0.11,0.51],
  [0.15,0.52],[0.20,0.53],[0.28,0.51],[0.03,0.60],[0.09,0.61],[0.14,0.60],[0.20,0.59],[0.25,0.61],[0.30,0.60],
  [0.04,0.68],[0.11,0.69],[0.16,0.68],[0.21,0.67],[0.27,0.69],[0.33,0.68],[0.04,0.76],[0.09,0.77],[0.14,0.76],
  [0.19,0.75],[0.24,0.77],[0.29,0.76],[0.35,0.75],[0.04,0.84],[0.10,0.85],[0.15,0.84],[0.21,0.83],[0.27,0.85],
  [0.34,0.84],[0.38,0.83],[0.05,0.92],[0.12,0.93],[0.17,0.92],[0.22,0.91],[0.28,0.93],[0.35,0.92],[0.05,1.00],
  [0.09,1.01],[0.13,1.00],[0.18,0.99],[0.23,1.01],[0.29,1.00],[0.33,0.99],[0.40,1.01],[0.05,1.08],[0.10,1.09],
  [0.15,1.08],[0.20,1.07],[0.26,1.09],[0.32,1.08],[0.39,1.07],[0.06,1.16],[0.11,1.17],[0.17,1.16],[0.23,1.15],
  [0.29,1.17],[0.35,1.16],[0.42,1.15],[0.07,1.24],[0.14,1.25],[0.19,1.24],[0.25,1.23],[0.31,1.25],[0.38,1.24],
  [0.06,1.32],[0.11,1.33],[0.16,1.32],[0.21,1.31],[0.26,1.33],[0.33,1.32],[0.40,1.31],[0.07,1.40],[0.13,1.41],
  [0.19,1.40],[0.24,1.39],[0.29,1.41],[0.35,1.40],[0.44,1.39],[0.08,1.50],[0.13,1.51],[0.19,1.49],[0.25,1.50],
  [0.32,1.51],[0.41,1.50],[0.09,1.60],[0.15,1.61],[0.21,1.59],[0.27,1.60],[0.33,1.61],[0.39,1.60],[0.10,1.70],
  [0.17,1.71],[0.23,1.69],[0.30,1.70],[0.38,1.71]];

const FONT = '"Liberation Sans", Arial, sans-serif';
const PINK = '#e91e78';
const ACC_RED = '#f04a2e';
const BLACK = '#000';

function pts(list) { return list.map(p => ({ x: p[0], y: p[1] })); }
function zip(xs, ys) { return xs.map((x, i) => [x, ys[i]]); }
function pick(v, labels) {
    const s = labels.find(t => Math.abs(parseFloat(t) - v) < 1e-6);
    return s === undefined ? '' : s;
}

function xAxis(min, max, step, labels, tl, pad, h) {
    return {
        type: 'linear', min, max,
        afterFit: s => { s.height = h; },
        ticks: { stepSize: step, includeBounds: false, autoSkip: false, maxRotation: 0, padding: pad,
                 color: BLACK, font: { family: FONT, size: 22 }, callback: v => pick(v, labels) },
        grid: { display: true, drawOnChartArea: false, drawTicks: true, tickLength: tl, tickWidth: 2.5, tickColor: BLACK },
        border: { display: true, color: BLACK, width: 3 }
    };
}
function yAxis(min, max, labels, tl, pad, w) {
    return {
        type: 'linear', min, max,
        afterFit: s => { s.width = w; },
        ticks: { stepSize: 1, includeBounds: false, autoSkip: false, padding: pad,
                 color: BLACK, font: { family: FONT, size: 22 }, callback: v => pick(v, labels) },
        grid: { display: true, drawOnChartArea: false, drawTicks: true, tickLength: tl, tickWidth: 2.5, tickColor: BLACK },
        border: { display: true, color: BLACK, width: 3 }
    };
}

// titles, panel letters and gene labels
function textLayer(texts, genes) {
    return {
        id: 'textLayer',
        afterDatasetsDraw(chart) {
            const ctx = chart.ctx;
            ctx.save();
            ctx.textBaseline = 'middle';
            texts.forEach(t => {
                ctx.save();
                ctx.font = t.font;
                ctx.fillStyle = BLACK;
                ctx.textAlign = 'center';
                ctx.translate(t.x, t.y);
                if (t.rot) ctx.rotate(t.rot);
                ctx.fillText(t.text, 0, 0);
                ctx.restore();
            });
            const xs = chart.scales.x, ys = chart.scales.y;
            genes.names.forEach((name, i) => {
                const px = xs.getPixelForValue(genes.x[i]);
                const py = ys.getPixelForValue(genes.y[i]);
                const o = genes.offsets[i];
                if (genes.acc) {
                    ctx.font = '5.5px ' + FONT;
                    ctx.fillStyle = ACC_RED;
                    ctx.textAlign = 'left';
                    ctx.fillText(genes.acc[i], px + o[2], py + o[3]);
                }
                ctx.font = '17px ' + FONT;
                ctx.fillStyle = PINK;
                ctx.textAlign = genes.align;
                ctx.fillText(name, px + o[0], py + o[1]);
            });
            ctx.restore();
        }
    };
}

function curveSet(list) {
    return { data: pts(list), showLine: true, pointRadius: 0, borderColor: '#1a1a1a', borderWidth: 1.3,
             cubicInterpolationMode: 'monotone', fill: false };
}

function volcano(id, cfg) {
    const mark = (list, fill) => ({ data: pts(list), pointStyle: cfg.style, pointRadius: cfg.radius,
                                     borderColor: cfg.border, backgroundColor: fill, borderWidth: 1 });
    new Chart(document.getElementById(id), {
        type: 'scatter',
        data: { datasets: [
            { data: pts(zip(cfg.gx, cfg.gy)), pointStyle: cfg.hiStyle, pointRadius: cfg.hiRadius,
              borderColor: cfg.hiBorder, backgroundColor: cfg.hiFill, borderWidth: 1 },
            curveSet(cfg.left),
            curveSet(cfg.right),
            mark(cfg.points, cfg.fill),
            mark(cfg.dense, cfg.denseFill)
        ] },
        options: {
            responsive: false, animation: false, events: [],
            layout: { padding: cfg.padding },
            plugins: { legend: { display: false }, tooltip: { enabled: false } },
            scales: { x: cfg.x, y: cfg.y }
        },
        plugins: [textLayer(cfg.texts, cfg.genes)]
    });
}

const title = size => size + 'px ' + FONT;

volcano('ca', {
    gx: genesAx, gy: genesAy, hiStyle: 'rect', hiRadius: 2.4, hiBorder: '#e8303a', hiFill: 'rgba(0,0,0,0)',
    left: curveALeft, right: curveARight,
    points: scatterA, dense: coreA, style: 'rect', radius: 2.4, border: '#a3a8a3',
    fill: 'rgba(163,168,163,0.3)', denseFill: 'rgba(163,168,163,0.9)',
    padding: { left: 0, top: 74, right: 25, bottom: 0 },
    x: xAxis(-0.880, 1.219, 0.2, xTicksA, 10, 7, 67),
    y: yAxis(-0.296, 5.426, yTicksA, 9, 4, 95),
    texts: [
        { text: 'a)', x: 19, y: 22, font: 'bold 18px ' + FONT },
        { text: '-Log p', x: 45, y: 227, font: title(22), rot: -Math.PI / 2 },
        { text: 'Difference (WT L - WT H)', x: 276, y: 436, font: title(22) }
    ],
    genes: { names: genesA, acc: accA, x: genesAx, y: genesAy, align: 'center',
             offsets: [[5,-8,1,4],[14,14,1,3],[-16,-10,1,3],[-17,-5,2,4],[28,-5,1,4],[7,12,1,3],[-8,10,1,5]] }
});

volcano('cb', {
    gx: genesBx, gy: genesBy, hiStyle: 'circle', hiRadius: 1.5, hiBorder: '#e8303a', hiFill: '#e8303a',
    left: curveBLeft, right: curveBRight,
    points: scatterB, dense: coreB, style: 'circle', radius: 1.9, border: '#a0a4a0',
    fill: 'rgba(160,164,160,0.3)', denseFill: 'rgba(160,164,160,0.9)',
    padding: { left: 0, top: 78, right: 27, bottom: 0 },
    x: xAxis(-1.929, 1.512, 0.2, xTicksB, 9, 9, 82),
    y: yAxis(-0.246, 5.21, yTicksB, 9, 3, 67),
    texts: [
        { text: 'b)', x: 22, y: 28, font: 'bold 18px ' + FONT },
        { text: '-Log p', x: 17, y: 221, font: title(22), rot: -Math.PI / 2 },
        { text: 'Difference (KO L - KO H)', x: 290, y: 457, font: title(22) }
    ],
    genes: { names: genesB, acc: accB, x: genesBx, y: genesBy, align: 'center',
             offsets: [[0,-14,1,2],[12,-14,1,0],[42,-6,1,0],[-16,-9,1,0],[-24,6,1,0],[78,3,1,0],[40,15,1,0]] }
});

volcano('cc', {
    gx: genesCx, gy: genesCy, hiStyle: 'circle', hiRadius: 2.6, hiBorder: PINK, hiFill: PINK,
    left: curveCLeft, right: curveCRight,
    points: scatterC, dense: coreC, style: 'circle', radius: 2.1, border: '#9c9e9e',
    fill: 'rgba(160,162,162,0.45)', denseFill: 'rgba(160,162,162,0.9)',
    padding: { left: 0, top: 49, right: 26, bottom: 0 },
    x: xAxis(-2.842, 1.785, 0.5, xTicksC, 11, 8, 73),
    y: yAxis(-0.31, 6.43, yTicksC, 12, 4, 98),
    texts: [
        { text: 'c)', x: 17, y: 32, font: 'bold 18px ' + FONT },
        { text: '-Log p', x: 47, y: 177, font: title(22), rot: -Math.PI / 2 },
        { text: 'Difference (WT - CHIP KO)', x: 323, y: 389, font: title(22) }
    ],
    genes: { names: genesC, x: genesCx, y: genesCy, align: 'left',
             offsets: [[7,-3],[13,0],[7,8],[6,-1],[11,-1],[8,5],[8,0]] }
});
</script>
</body>
</html>
